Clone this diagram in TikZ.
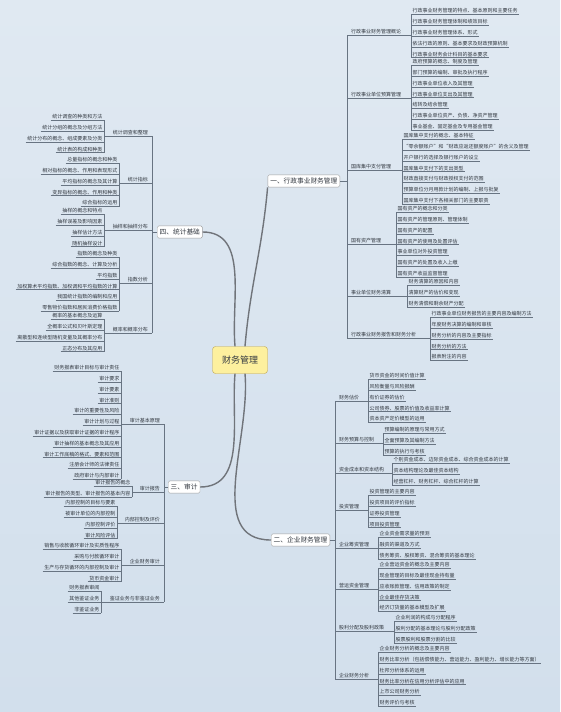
\documentclass[tikz,border=0pt]{standalone}
\usepackage{fontspec}
\setmainfont{Noto Sans CJK SC}
\usetikzlibrary{positioning}
\definecolor{bgtop}{RGB}{224,233,242}
\definecolor{bgbot}{RGB}{210,223,236}
\definecolor{ink}{RGB}{50,56,64}
\definecolor{wire}{RGB}{104,116,130}
\definecolor{trunkc}{RGB}{112,116,122}
\definecolor{gold}{RGB}{253,240,158}
\definecolor{goldline}{RGB}{190,164,78}

\begin{document}
\begin{tikzpicture}[
    x=1pt, y=-1pt,
    node distance=0pt,
    uline/.style={draw=wire, line width=0.55pt},
    link/.style={draw=wire, line width=0.55pt},
    leafR/.style={anchor=south west, text=ink, font=\fontsize{5}{6}\selectfont,
                  inner xsep=1.5pt, inner ysep=1pt, text height=7.9pt, text depth=0.5pt,
                  append after command={(\tikzlastnode.south west) edge[uline] (\tikzlastnode.south east)}},
    leafL/.style={leafR, anchor=south east},
    subR/.style={leafR, inner xsep=4pt},
    subL/.style={leafL, inner xsep=4pt},
    topic/.style={draw=gray!75, fill=white, rounded corners=1.5pt, text=ink,
                  font=\fontsize{6.7}{8}\selectfont, inner xsep=2.5pt, inner ysep=3pt},
    root/.style={draw=goldline, fill=gold, rounded corners=3pt, text=ink,
                 font=\fontsize{9}{11}\selectfont, minimum width=55pt, minimum height=27pt},
    mainlink/.style={draw=trunkc, line width=1.4pt}
  ]
    % background
    \fill[top color=bgtop, bottom color=bgbot] (0,0) rectangle (560,712);

    % root and main topics
    \node[root] (fm) at (240,360) {财务管理};
    \node[topic, anchor=east] (m1) at (340,181) {一、行政事业财务管理};
    \node[topic, anchor=east] (m2) at (330,540) {二、企业财务管理};
    \node[topic, anchor=west] (m3) at (168,487) {三、审计};
    \node[topic, anchor=west] (m4) at (157,232) {四、统计基础};

    \draw[mainlink] (fm.70)  to[out=85, in=-95] (m1.south west);
    \draw[mainlink] (fm.-70) to[out=-85, in=180] (m2.west);
    \draw[mainlink] (fm.-110) to[out=-95, in=0] (m3.east);
    \draw[mainlink] (fm.110) to[out=95, in=0] (m4.east);

    % ---------- 一、行政事业财务管理 ----------
    \node[subR] (a1) at (347,35.3) {行政事业财务管理概论};
    \node[leafR] (a1-1) at (411,14.5) {行政事业财务管理的特点、基本原则和主要任务};
    \node[leafR, below=of a1-1.south west, anchor=north west] (a1-2) {行政事业财务管理体制和绩效目标};
    \node[leafR, below=of a1-2.south west, anchor=north west] (a1-3) {行政事业财务管理体系、形式};
    \node[leafR, below=of a1-3.south west, anchor=north west] (a1-4) {依法行政的原则、基本要求及财政预算机制};
    \node[leafR, below=of a1-4.south west, anchor=north west] (a1-5) {行政事业财务会计科目的基本要求};
    \draw[link] (a1.south east) -- (a1-1.south west |- a1.south east);
    \draw[link] (a1-1.south west) -- (a1-5.south west);

    \node[subR] (a2) at (347,98.3) {行政事业单位预算管理};
    \node[leafR] (a2-1) at (411,65.3) {政府预算的概念、制度及管理};
    \node[leafR, below=of a2-1.south west, anchor=north west] (a2-2) {部门预算的编制、审批及执行程序};
    \node[leafR, below=of a2-2.south west, anchor=north west] (a2-3) {行政事业单位收入及其管理};
    \node[leafR, below=of a2-3.south west, anchor=north west] (a2-4) {行政事业单位支出及其管理};
    \node[leafR, below=of a2-4.south west, anchor=north west] (a2-5) {结转及结余管理};
    \node[leafR, below=of a2-5.south west, anchor=north west] (a2-6) {行政事业单位资产、负债、净资产管理};
    \node[leafR, below=of a2-6.south west, anchor=north west] (a2-7) {事业基金、固定基金及专用基金管理};
    \draw[link] (a2.south east) -- (a2-1.south west |- a2.south east);
    \draw[link] (a2-1.south west) -- (a2-7.south west);

    \node[subR] (a3) at (347,170.3) {国库集中支付管理};
    \node[leafR] (a3-1) at (402,139.3) {国库集中支付的概念、基本特征};
    \node[leafR, below=of a3-1.south west, anchor=north west] (a3-2) {“零余额账户”和“财政应返还额度账户”的含义及管理};
    \node[leafR, below=of a3-2.south west, anchor=north west] (a3-3) {开户银行的选择及银行账户的设立};
    \node[leafR, below=of a3-3.south west, anchor=north west] (a3-4) {国库集中支付下的支出类型};
    \node[leafR, below=of a3-4.south west, anchor=north west] (a3-5) {财政直接支付与财政授权支付的范围};
    \node[leafR, below=of a3-5.south west, anchor=north west] (a3-6) {预算单位分月用款计划的编制、上报与批复};
    \node[leafR, below=of a3-6.south west, anchor=north west] (a3-7) {国库集中支付下各相关部门的主要职责};
    \draw[link] (a3.south east) -- (a3-1.south west |- a3.south east);
    \draw[link] (a3-1.south west) -- (a3-7.south west);

    \node[subR] (a4) at (347,244.3) {国有资产管理};
    \node[leafR] (a4-1) at (396,212.3) {国有资产的概念和分类};
    \node[leafR, below=of a4-1.south west, anchor=north west] (a4-2) {国有资产的管理原则、管理体制};
    \node[leafR, below=of a4-2.south west, anchor=north west] (a4-3) {国有资产的配置};
    \node[leafR, below=of a4-3.south west, anchor=north west] (a4-4) {国有资产的使用及处置评估};
    \node[leafR, below=of a4-4.south west, anchor=north west] (a4-5) {事业单位对外投资管理};
    \node[leafR, below=of a4-5.south west, anchor=north west] (a4-6) {国有资产的处置及收入上缴};
    \node[leafR, below=of a4-6.south west, anchor=north west] (a4-7) {国有资产收益监督管理};
    \draw[link] (a4.south east) -- (a4-1.south west |- a4.south east);
    \draw[link] (a4-1.south west) -- (a4-7.south west);

    \node[subR] (a5) at (347,296.3) {事业单位财务清算};
    \node[leafR] (a5-1) at (407,285.3) {财务清算的原因和内容};
    \node[leafR, below=of a5-1.south west, anchor=north west] (a5-2) {清算财产的估价和变现};
    \node[leafR, below=of a5-2.south west, anchor=north west] (a5-3) {财务清偿和剩余财产分配};
    \draw[link] (a5.south east) -- (a5-1.south west |- a5.south east);
    \draw[link] (a5-1.south west) -- (a5-3.south west);

    \node[subR] (a6) at (347,338.3) {行政事业财务报告和财务分析};
    \node[leafR] (a6-1) at (430,317.3) {行政事业单位财务报告的主要内容及编制方法};
    \node[leafR, below=of a6-1.south west, anchor=north west] (a6-2) {年度财务决算的编制和审核};
    \node[leafR, below=of a6-2.south west, anchor=north west] (a6-3) {财务分析的内容及主要指标};
    \node[leafR, below=of a6-3.south west, anchor=north west] (a6-4) {财务分析的方法};
    \node[leafR, below=of a6-4.south west, anchor=north west] (a6-5) {报表附注的内容};
    \draw[link] (a6.south east) -- (a6-1.south west |- a6.south east);
    \draw[link] (a6-1.south west) -- (a6-5.south west);

    \draw[link] (a1.south west) -- (a6.south west);
    \draw[link] (m1.east) -- (m1.east -| a1.south west);

    % ---------- 二、企业财务管理 ----------
    \node[subR] (b1) at (335,401) {财务估价};
    \node[leafR] (b1-1) at (368,379.3) {货币资金的时间价值计算};
    \node[leafR, below=of b1-1.south west, anchor=north west] (b1-2) {风险衡量与风险报酬};
    \node[leafR, below=of b1-2.south west, anchor=north west] (b1-3) {有价证券的估价};
    \node[leafR, below=of b1-3.south west, anchor=north west] (b1-4) {公司债券、股票的价值及收益率计算};
    \node[leafR, below=of b1-4.south west, anchor=north west] (b1-5) {资本资产定价模型的运用};
    \draw[link] (b1.south east) -- (b1-1.south west |- b1.south east);
    \draw[link] (b1-1.south west) -- (b1-5.south west);

    \node[subR] (b2) at (335,443) {财务预算与控制};
    \node[leafR] (b2-1) at (383,433.3) {预算编制的原理与常用方式};
    \node[leafR, below=of b2-1.south west, anchor=north west] (b2-2) {全面预算及其编制方法};
    \node[leafR, below=of b2-2.south west, anchor=north west] (b2-3) {预算的执行与考核};
    \draw[link] (b2.south east) -- (b2-1.south west |- b2.south east);
    \draw[link] (b2-1.south west) -- (b2-3.south west);

    \node[subR] (b3) at (335,473) {资金成本和资本结构};
    \node[leafR] (b3-1) at (392,463.3) {个别资金成本、边际资金成本、综合资金成本的计算};
    \node[leafR, below=of b3-1.south west, anchor=north west] (b3-2) {资本结构理论及最佳资本结构};
    \node[leafR, below=of b3-2.south west, anchor=north west] (b3-3) {经营杠杆、财务杠杆、综合杠杆的计算};
    \draw[link] (b3.south east) -- (b3-1.south west |- b3.south east);
    \draw[link] (b3-1.south west) -- (b3-3.south west);

    \node[subR] (b4) at (335,510) {投资管理};
    \node[leafR] (b4-1) at (368,495.3) {投资管理的主要内容};
    \node[leafR, below=of b4-1.south west, anchor=north west] (b4-2) {投资项目的评价指标};
    \node[leafR, below=of b4-2.south west, anchor=north west] (b4-3) {证券投资管理};
    \node[leafR, below=of b4-3.south west, anchor=north west] (b4-4) {项目投资管理};
    \draw[link] (b4.south east) -- (b4-1.south west |- b4.south east);
    \draw[link] (b4-1.south west) -- (b4-4.south west);

    \node[subR] (b5) at (335,548) {企业筹资管理};
    \node[leafR] (b5-1) at (378,537.3) {企业资金需求量的预测};
    \node[leafR, below=of b5-1.south west, anchor=north west] (b5-2) {融资的渠道及方式};
    \node[leafR, below=of b5-2.south west, anchor=north west] (b5-3) {债务筹资、股权筹资、混合筹资的基本理论};
    \draw[link] (b5.south east) -- (b5-1.south west |- b5.south east);
    \draw[link] (b5-1.south west) -- (b5-3.south west);

    \node[subR] (b6) at (335,589) {营运资金管理};
    \node[leafR] (b6-1) at (378,568.3) {企业营运资金的概念及主要内容};
    \node[leafR, below=of b6-1.south west, anchor=north west] (b6-2) {现金管理的目标及最佳现金持有量};
    \node[leafR, below=of b6-2.south west, anchor=north west] (b6-3) {应收账款管理、信用政策的制定};
    \node[leafR, below=of b6-3.south west, anchor=north west] (b6-4) {企业最佳存货决策};
    \node[leafR, below=of b6-4.south west, anchor=north west] (b6-5) {经济订货量的基本模型及扩展};
    \draw[link] (b6.south east) -- (b6-1.south west |- b6.south east);
    \draw[link] (b6-1.south west) -- (b6-5.south west);

    \node[subR] (b7) at (335,631) {股利分配及股利政策};
    \node[leafR] (b7-1) at (394,621.3) {企业利润的构成与分配程序};
    \node[leafR, below=of b7-1.south west, anchor=north west] (b7-2) {股利分配的基本理论与股利分配政策};
    \node[leafR, below=of b7-2.south west, anchor=north west] (b7-3) {股票股利和股票分割的比较};
    \draw[link] (b7.south east) -- (b7-1.south west |- b7.south east);
    \draw[link] (b7-1.south west) -- (b7-3.south west);

    \node[subR] (b8) at (335,679) {企业财务分析};
    \node[leafR] (b8-1) at (378,652.3) {企业财务分析的概念及主要内容};
    \node[leafR, below=of b8-1.south west, anchor=north west] (b8-2) {财务比率分析（包括偿债能力、营运能力、盈利能力、增长能力等方面）};
    \node[leafR, below=of b8-2.south west, anchor=north west] (b8-3) {杜邦分析体系的运用};
    \node[leafR, below=of b8-3.south west, anchor=north west] (b8-4) {财务比率分析在信用分析评估中的应用};
    \node[leafR, below=of b8-4.south west, anchor=north west] (b8-5) {上市公司财务分析};
    \node[leafR, below=of b8-5.south west, anchor=north west] (b8-6) {财务评价与考核};
    \draw[link] (b8.south east) -- (b8-1.south west |- b8.south east);
    \draw[link] (b8-1.south west) -- (b8-6.south west);

    \draw[link] (b1.south west) -- (b8.south west);
    \draw[link] (m2.east) -- (m2.east -| b1.south west);

    % ---------- 四、统计基础 ----------
    \node[subL] (c1) at (152,136.3) {统计调查和整理};
    \node[leafL] (c1-1) at (104,120.3) {统计调查的种类和方法};
    \node[leafL, below=of c1-1.south east, anchor=north east] (c1-2) {统计分组的概念及分组方法};
    \node[leafL, below=of c1-2.south east, anchor=north east] (c1-3) {统计分布的概念、组成要素及分类};
    \node[leafL, below=of c1-3.south east, anchor=north east] (c1-4) {统计表的构成和种类};
    \draw[link] (c1.south west) -- (c1-1.south east |- c1.south west);
    \draw[link] (c1-1.south east) -- (c1-4.south east);

    \node[subL] (c2) at (152,183.3) {统计指标};
    \node[leafL] (c2-1) at (119,163.3) {总量指标的概念和种类};
    \node[leafL, below=of c2-1.south east, anchor=north east] (c2-2) {相对指标的概念、作用和表现形式};
    \node[leafL, below=of c2-2.south east, anchor=north east] (c2-3) {平均指标的概念及其计算};
    \node[leafL, below=of c2-3.south east, anchor=north east] (c2-4) {变异指标的概念、作用和种类};
    \node[leafL, below=of c2-4.south east, anchor=north east] (c2-5) {综合指标的运用};
    \draw[link] (c2.south west) -- (c2-1.south east |- c2.south west);
    \draw[link] (c2-1.south east) -- (c2-5.south east);

    \node[subL] (c3) at (152,230.3) {抽样和抽样分布};
    \node[leafL] (c3-1) at (104,214.3) {抽样的概念和特点};
    \node[leafL, below=of c3-1.south east, anchor=north east] (c3-2) {抽样误差及影响因素};
    \node[leafL, below=of c3-2.south east, anchor=north east] (c3-3) {抽样估计方法};
    \node[leafL, below=of c3-3.south east, anchor=north east] (c3-4) {随机抽样设计};
    \draw[link] (c3.south west) -- (c3-1.south east |- c3.south west);
    \draw[link] (c3-1.south east) -- (c3-4.south east);

    \node[subL] (c4) at (152,283.3) {指数分析};
    \node[leafL] (c4-1) at (119,257.3) {指数的概念及种类};
    \node[leafL, below=of c4-1.south east, anchor=north east] (c4-2) {综合指数的概念、计算及分析};
    \node[leafL, below=of c4-2.south east, anchor=north east] (c4-3) {平均指数};
    \node[leafL, below=of c4-3.south east, anchor=north east] (c4-4) {加权算术平均指数、加权调和平均指数的计算};
    \node[leafL, below=of c4-4.south east, anchor=north east] (c4-5) {我国统计指数的编制和应用};
    \node[leafL, below=of c4-5.south east, anchor=north east] (c4-6) {零售物价指数和居民消费价格指数};
    \draw[link] (c4.south west) -- (c4-1.south east |- c4.south west);
    \draw[link] (c4-1.south east) -- (c4-6.south east);

    \node[subL] (c5) at (152,333.3) {概率和概率分布};
    \node[leafL] (c5-1) at (104,319.3) {概率的基本概念及运算};
    \node[leafL, below=of c5-1.south east, anchor=north east] (c5-2) {全概率公式和贝叶斯定理};
    \node[leafL, below=of c5-2.south east, anchor=north east] (c5-3) {离散型和连续型随机变量及其概率分布};
    \node[leafL, below=of c5-3.south east, anchor=north east] (c5-4) {正态分布及其应用};
    \draw[link] (c5.south west) -- (c5-1.south east |- c5.south west);
    \draw[link] (c5-1.south east) -- (c5-4.south east);

    \draw[link] (c1.south east) -- (c5.south east);
    \draw[link] (m4.west) -- (m4.west -| c1.south east);

    % ---------- 三、审计 ----------
    \node[subL] (d1) at (164,424.3) {审计基本原理};
    \node[leafL] (d1-1) at (121,371.3) {财务报表审计目标与审计责任};
    \node[leafL, below=of d1-1.south east, anchor=north east] (d1-2) {审计要求};
    \node[leafL, below=of d1-2.south east, anchor=north east] (d1-3) {审计要素};
    \node[leafL, below=of d1-3.south east, anchor=north east] (d1-4) {审计准则};
    \node[leafL, below=of d1-4.south east, anchor=north east] (d1-5) {审计的重要性及风险};
    \node[leafL, below=of d1-5.south east, anchor=north east] (d1-6) {审计计划与过程};
    \node[leafL, below=of d1-6.south east, anchor=north east] (d1-7) {审计证据以及获取审计证据的审计程序};
    \node[leafL, below=of d1-7.south east, anchor=north east] (d1-8) {审计抽样的基本概念及其应用};
    \node[leafL, below=of d1-8.south east, anchor=north east] (d1-9) {审计工作底稿的格式、要素和范围};
    \node[leafL, below=of d1-9.south east, anchor=north east] (d1-10) {注册会计师的法律责任};
    \node[leafL, below=of d1-10.south east, anchor=north east] (d1-11) {政府审计与内部审计};
    \draw[link] (d1.south west) -- (d1-1.south east |- d1.south west);
    \draw[link] (d1-1.south east) -- (d1-11.south east);

    \node[subL] (d2) at (164,492.3) {审计报告};
    \node[leafL] (d2-1) at (132,486.3) {审计报告的概念};
    \node[leafL, below=of d2-1.south east, anchor=north east] (d2-2) {审计报告的类型、审计报告的基本内容};
    \draw[link] (d2.south west) -- (d2-1.south east |- d2.south west);
    \draw[link] (d2-1.south east) -- (d2-2.south east);

    \node[subL] (d3) at (164,523.3) {内部控制及评价};
    \node[leafL] (d3-1) at (117,506.3) {内部控制的目标与要素};
    \node[leafL, below=of d3-1.south east, anchor=north east] (d3-2) {被审计单位的内部控制};
    \node[leafL, below=of d3-2.south east, anchor=north east] (d3-3) {内部控制评价};
    \node[leafL, below=of d3-3.south east, anchor=north east] (d3-4) {审计风险评估};
    \draw[link] (d3.south west) -- (d3-1.south east |- d3.south west);
    \draw[link] (d3-1.south east) -- (d3-4.south east);

    \node[subL] (d4) at (164,565.3) {企业财务审计};
    \node[leafL] (d4-1) at (121,549.3) {销售与收款循环审计及实质性程序};
    \node[leafL, below=of d4-1.south east, anchor=north east] (d4-2) {采购与付款循环审计};
    \node[leafL, below=of d4-2.south east, anchor=north east] (d4-3) {生产与存货循环的内部控制及审计};
    \node[leafL, below=of d4-3.south east, anchor=north east] (d4-4) {货币资金审计};
    \draw[link] (d4.south west) -- (d4-1.south east |- d4.south west);
    \draw[link] (d4-1.south east) -- (d4-4.south east);

    \node[subL] (d5) at (164,602.3) {鉴证业务与非鉴证业务};
    \node[leafL] (d5-1) at (101,591.3) {财务报表审阅};
    \node[leafL, below=of d5-1.south east, anchor=north east] (d5-2) {其他鉴证业务};
    \node[leafL, below=of d5-2.south east, anchor=north east] (d5-3) {非鉴证业务};
    \draw[link] (d5.south west) -- (d5-1.south east |- d5.south west);
    \draw[link] (d5-1.south east) -- (d5-3.south east);

    \draw[link] (d1.south east) -- (d5.south east);
    \draw[link] (m3.west) -- (m3.west -| d1.south east);
  \end{tikzpicture}
\end{document}
